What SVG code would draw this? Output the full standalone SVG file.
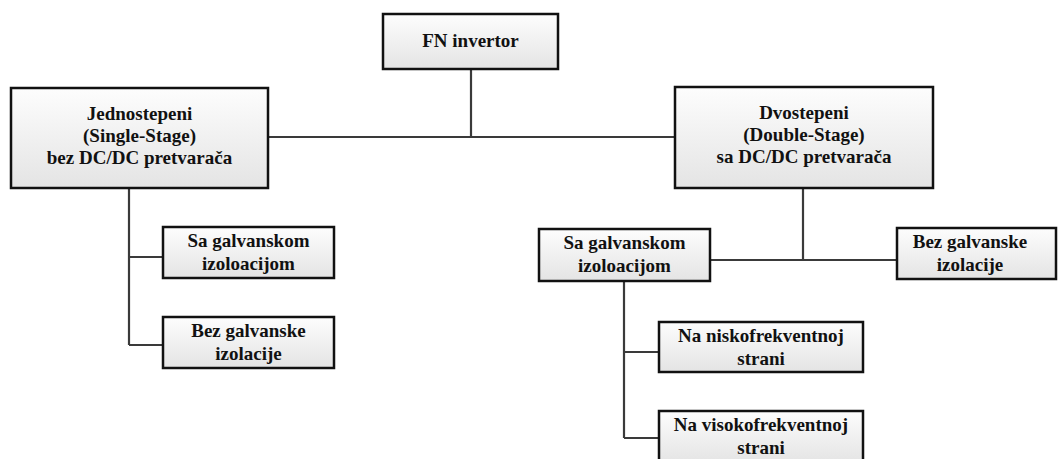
<svg xmlns="http://www.w3.org/2000/svg" width="1058" height="459" viewBox="0 0 1058 459">
<style>
.box{fill:url(#g);stroke:#111;stroke-width:2.5}
text{font-family:'Liberation Serif','DejaVu Serif',serif;font-weight:bold;font-size:19px;fill:#111;text-anchor:middle}
.c{fill:none;stroke:#3a3a3a;stroke-width:2.2}
</style>
<defs>
<linearGradient id="g" x1="0" y1="0" x2="0" y2="1">
<stop offset="0" stop-color="#fdfdfd"/>
<stop offset="1" stop-color="#e4e4e4"/>
</linearGradient>
</defs>
<rect width="1058" height="459" fill="#fff"/>
<g id="connectors">
<path class="c" d="M471 69V137M268 137H675"/>
<path class="c" d="M129 188V345M129 257H163M129 345H163"/>
<path class="c" d="M803 188V260M710 260H897"/>
<path class="c" d="M624 281V438M624 352H659M624 438H659"/>
</g>
<g id="fn">
<rect class="box" x="383" y="14" width="175" height="55"/>
<text x="470.5" y="47">FN invertor</text>
</g>
<g id="single">
<rect class="box" x="11" y="88" width="257" height="100"/>
<text x="139.5" y="120">Jednostepeni</text>
<text x="139.5" y="142">(Single-Stage)</text>
<text x="139.5" y="164">bez DC/DC pretvarača</text>
</g>
<g id="double">
<rect class="box" x="675" y="87" width="258" height="101"/>
<text x="804" y="119">Dvostepeni</text>
<text x="804" y="141">(Double-Stage)</text>
<text x="804" y="163">sa DC/DC pretvarača</text>
</g>
<g id="s-sa">
<rect class="box" x="163" y="227" width="171" height="51"/>
<text x="248.5" y="247">Sa galvanskom</text>
<text x="248.5" y="270">izoloacijom</text>
</g>
<g id="s-bez">
<rect class="box" x="163" y="317" width="171" height="51"/>
<text x="248.5" y="337">Bez galvanske</text>
<text x="248.5" y="360">izolacije</text>
</g>
<g id="d-sa">
<rect class="box" x="539" y="229" width="171" height="52"/>
<text x="624.5" y="249">Sa galvanskom</text>
<text x="624.5" y="272">izoloacijom</text>
</g>
<g id="d-bez">
<rect class="box" x="897" y="228" width="159" height="51"/>
<text x="970" y="248">Bez galvanske</text>
<text x="970" y="271">izolacije</text>
</g>
<g id="nisko">
<rect class="box" x="659" y="322" width="204" height="50"/>
<text x="761" y="342">Na niskofrekventnoj</text>
<text x="761" y="365">strani</text>
</g>
<g id="visoko">
<rect class="box" x="659" y="411" width="204" height="52"/>
<text x="761" y="431">Na visokofrekventnoj</text>
<text x="761" y="454">strani</text>
</g>
</svg>
